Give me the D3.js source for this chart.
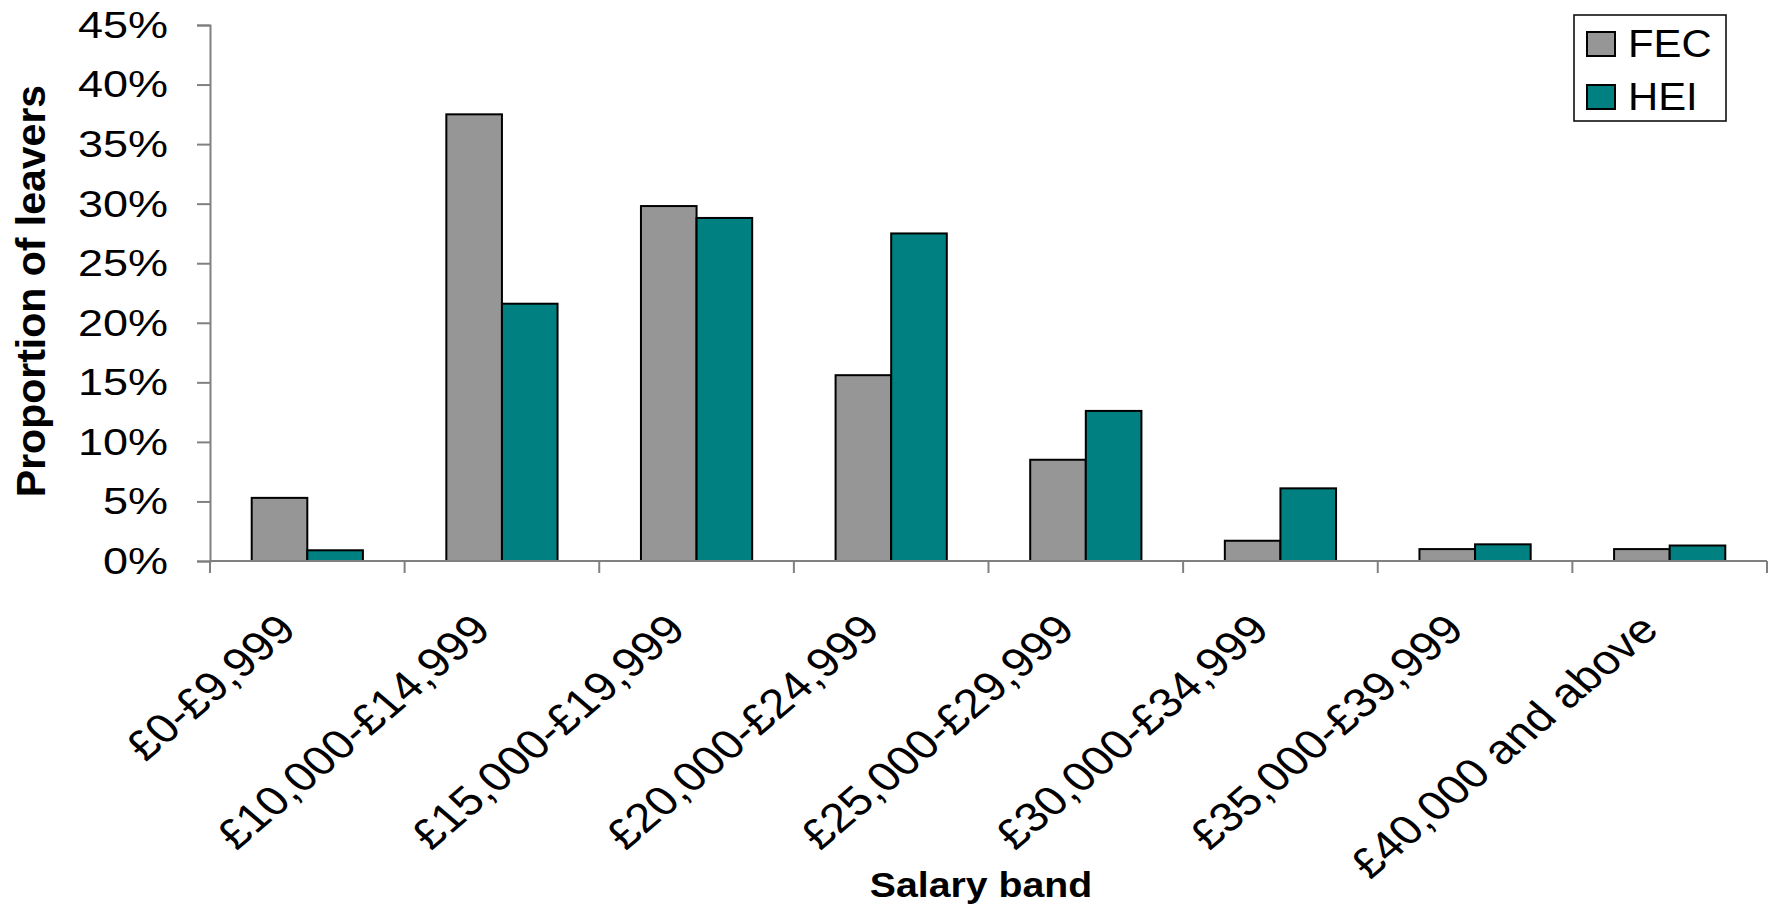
<!DOCTYPE html>
<html>
<head>
<meta charset="utf-8">
<script src="https://cdn.jsdelivr.net/npm/d3@7/dist/d3.min.js"></script>
<style>
  html, body { margin: 0; padding: 0; background: #fff; }
  svg { display: block; }
  text { font-family: "Liberation Sans", Arial, Helvetica, sans-serif; fill: #000; }
</style>
</head>
<body>
<svg id="chart" width="1771" height="905"></svg>
<script>
const categories = ["£0-£9,999", "£10,000-£14,999", "£15,000-£19,999", "£20,000-£24,999",
                    "£25,000-£29,999", "£30,000-£34,999", "£35,000-£39,999", "£40,000 and above"];
const seriesNames = ["FEC", "HEI"];
const fecValues = [5.3, 37.5, 29.8, 15.6, 8.5, 1.7, 1.0, 1.0];
const heiValues = [0.9, 21.6, 28.8, 27.5, 12.6, 6.1, 1.4, 1.3];
const yTicks = [0, 5, 10, 15, 20, 25, 30, 35, 40, 45];
const colors = ["#969696", "#008080"];

(function () {
const svg = d3.select("#chart");
const mLeft = 210, mRight = 1767, mTop = 25, mBottom = 561;

const x = d3.scaleBand().domain(categories).range([mLeft, mRight])
  .paddingInner(1.5 / 3.5).paddingOuter(0.75 / 3.5);
const x1 = d3.scaleBand().domain(seriesNames).range([0, x.bandwidth()]);
const y = d3.scaleLinear().domain([0, 45]).range([mBottom, mTop]);

const data = categories.map((c, i) => ({ cat: c, vals: [fecValues[i], heiValues[i]] }));

// bars
const groups = svg.append("g").selectAll("g").data(data).join("g")
  .attr("transform", d => `translate(${x(d.cat)},0)`);
groups.selectAll("rect").data(d => d.vals.map((v, j) => ({ v, s: seriesNames[j], j })))
  .join("rect")
  .attr("x", d => x1(d.s))
  .attr("y", d => y(d.v))
  .attr("width", x1.bandwidth())
  .attr("height", d => y(0) - y(d.v))
  .attr("fill", d => colors[d.j])
  .attr("stroke", "#000")
  .attr("stroke-width", 2);

// y axis
const yAxis = svg.append("g").attr("transform", `translate(${mLeft},0)`)
  .call(d3.axisLeft(y).tickValues(yTicks).tickSize(13).tickFormat(d => d + "%"));
yAxis.select(".domain").attr("stroke", "#808080").attr("stroke-width", 2);
yAxis.selectAll(".tick line").attr("stroke", "#808080").attr("stroke-width", 2);
yAxis.selectAll(".tick text")
  .attr("x", null).attr("dy", null)
  .attr("text-anchor", "end")
  .attr("dominant-baseline", "central")
  .attr("fill", "#000")
  .style("font-size", "36px")
  .attr("transform", "translate(-42,0) scale(1.25,1)");

// x axis line + boundary ticks
const xAx = svg.append("g");
xAx.append("line").attr("x1", mLeft).attr("x2", mRight).attr("y1", y(0)).attr("y2", y(0))
  .attr("stroke", "#808080").attr("stroke-width", 2);
const step = x.step();
const bounds = categories.map(c => x(c) - (step - x.bandwidth()) / 2).concat([mRight]);
xAx.selectAll("line.b").data(bounds).join("line").attr("class", "b")
  .attr("x1", d => d).attr("x2", d => d).attr("y1", y(0)).attr("y2", y(0) + 12)
  .attr("stroke", "#808080").attr("stroke-width", 2);
xAx.selectAll("text").data(categories).join("text")
  .attr("text-anchor", "end")
  .style("font-size", "41px")
  .attr("transform", d => `translate(${x(d) + x.bandwidth() / 2 - 9},632) scale(1.17,1) rotate(-45)`)
  .text(d => d);

// axis titles
svg.append("text")
  .attr("transform", `translate(45,291) rotate(-90)`)
  .attr("text-anchor", "middle")
  .style("font-size", "41px").style("font-weight", "bold")
  .text("Proportion of leavers");
svg.append("text")
  .attr("transform", `translate(981,897) scale(1.09,1)`)
  .attr("text-anchor", "middle")
  .style("font-size", "36px").style("font-weight", "bold")
  .text("Salary band");

// legend
const lg = svg.append("g").attr("transform", "translate(1574,15)");
lg.append("rect").attr("x", 0).attr("y", 0).attr("width", 152).attr("height", 106)
  .attr("fill", "#fff").attr("stroke", "#000").attr("stroke-width", 1.5);
seriesNames.forEach((s, i) => {
  lg.append("rect").attr("x", 13).attr("y", 17 + i * 53).attr("width", 28).attr("height", 24)
    .attr("fill", colors[i]).attr("stroke", "#000").attr("stroke-width", 2);
  lg.append("text").attr("transform", `translate(54,${42 + i * 53}) scale(1.1,1)`)
    .style("font-size", "38px").text(s);
});
})();
</script>
</body>
</html>
